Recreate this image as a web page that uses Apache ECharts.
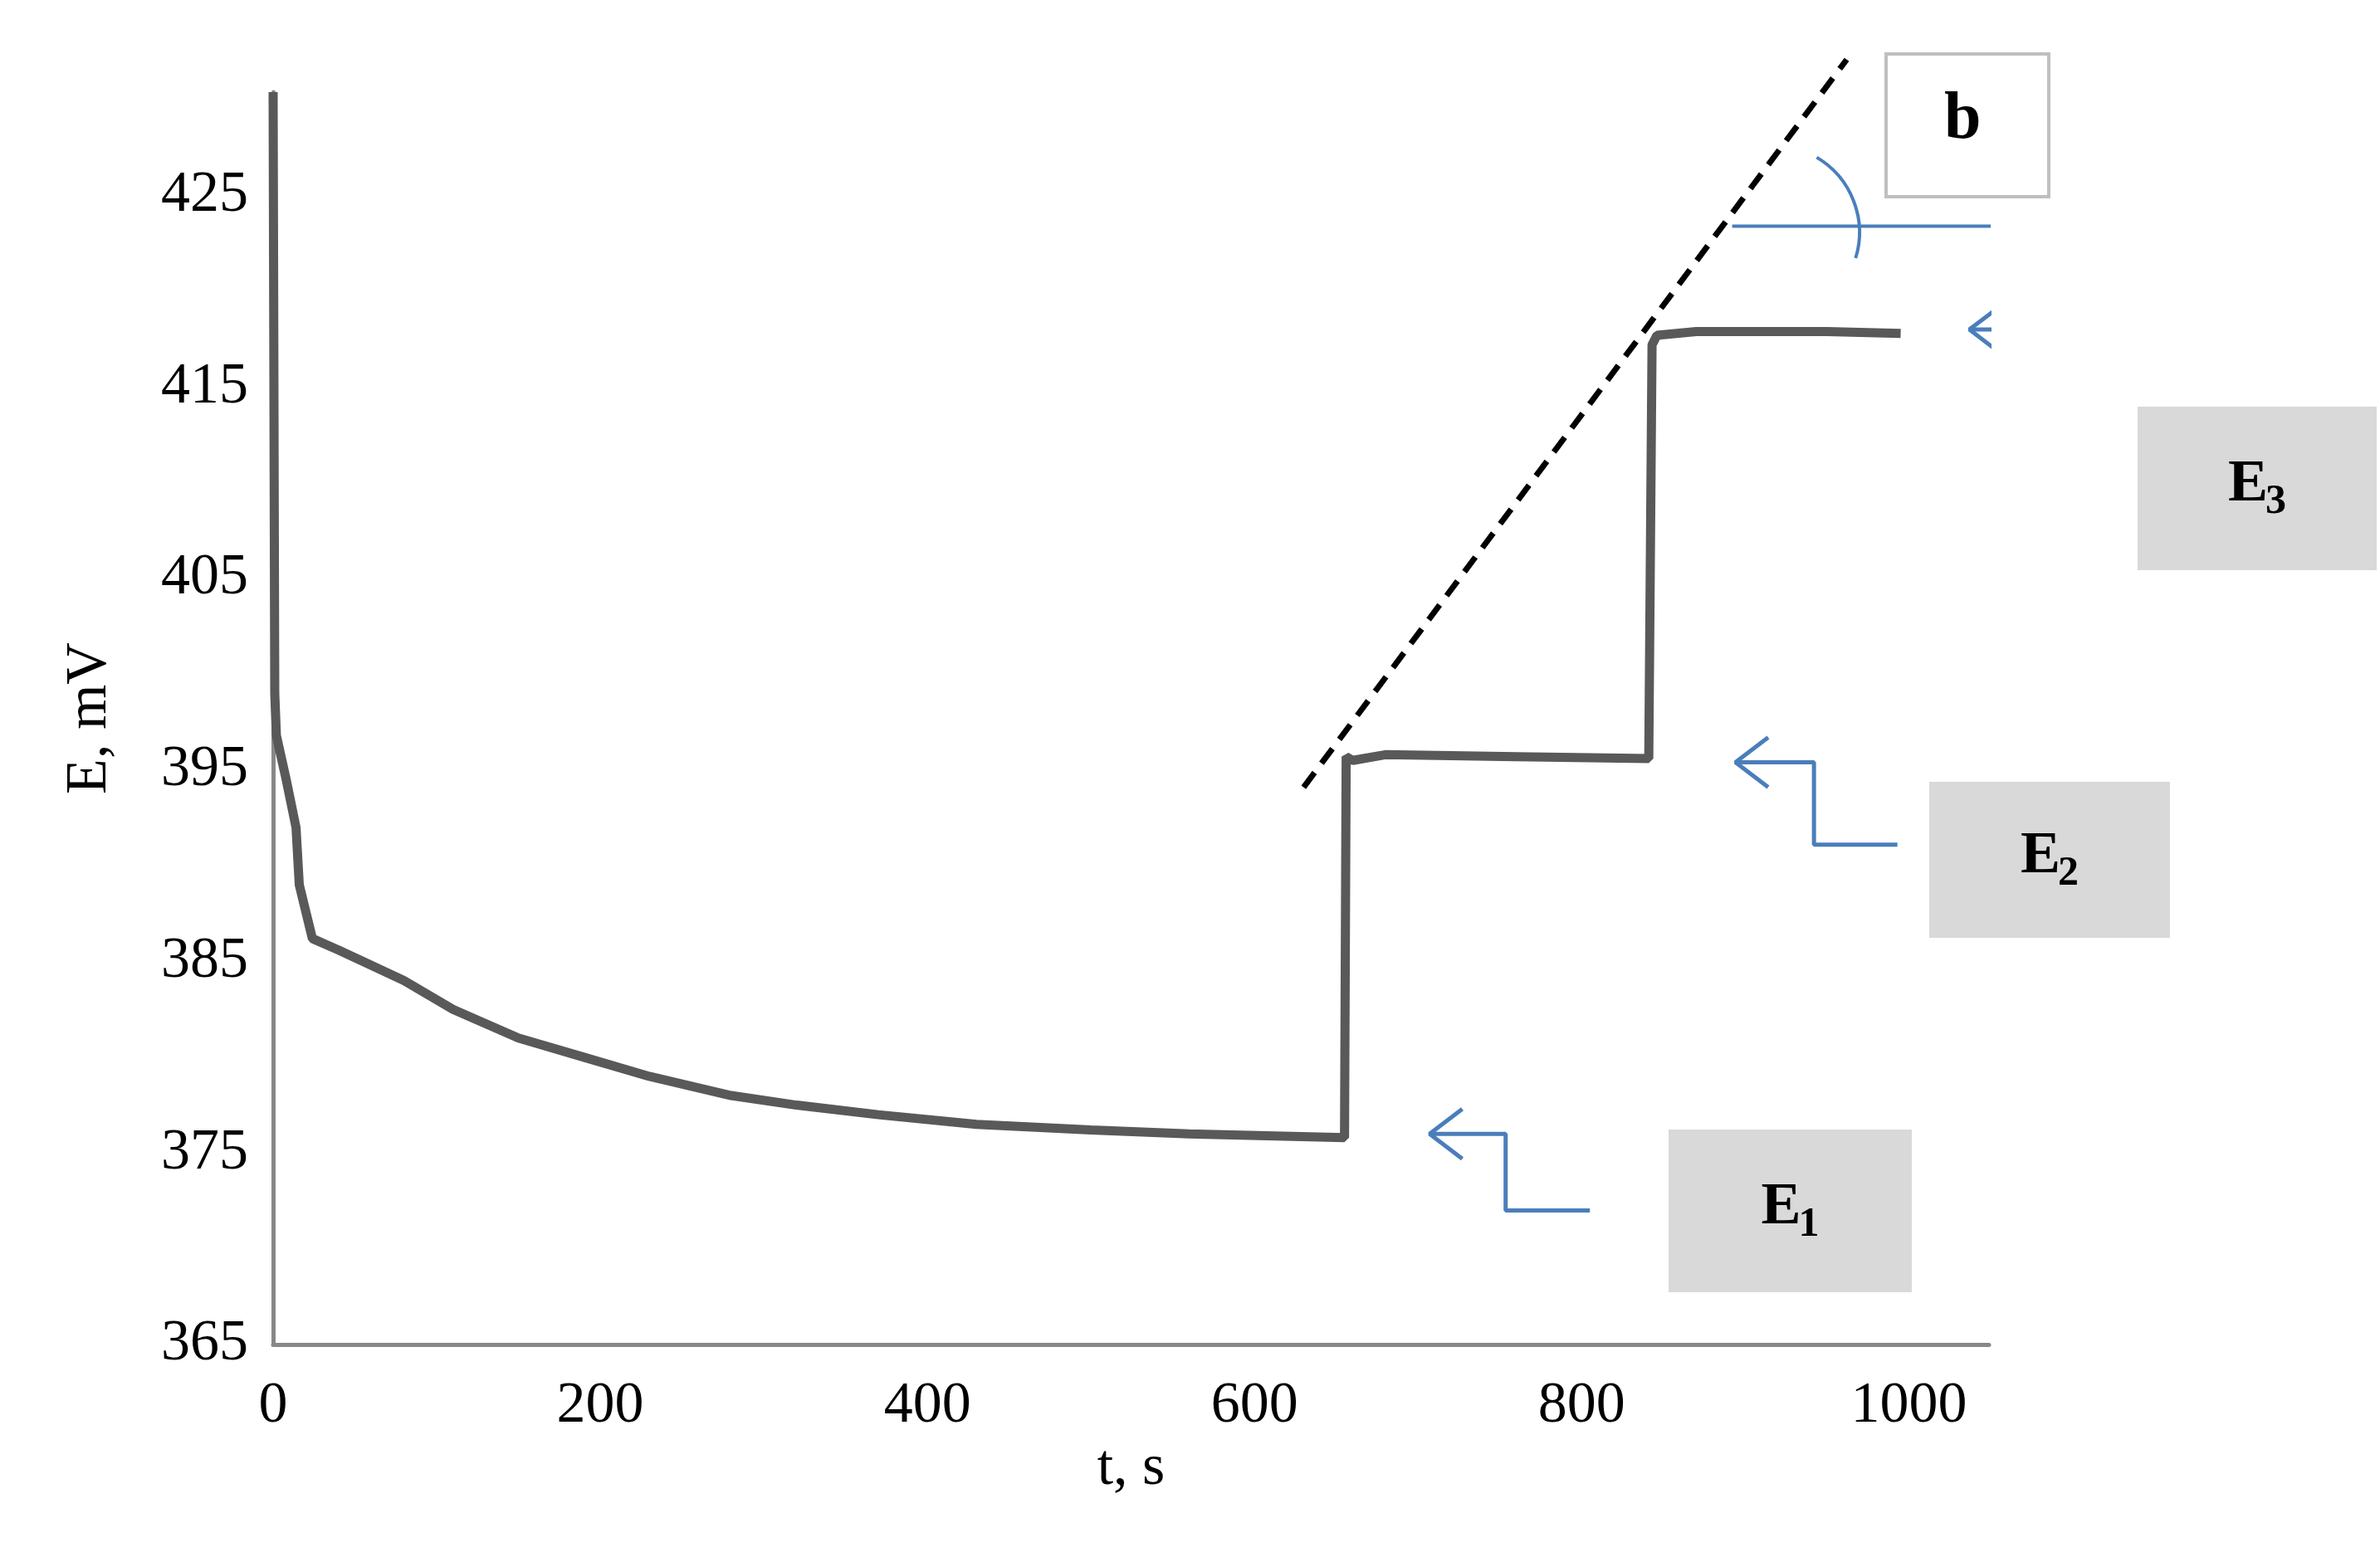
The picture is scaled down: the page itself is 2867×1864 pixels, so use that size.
<!DOCTYPE html>
<html><head><meta charset="utf-8">
<script src="https://cdn.jsdelivr.net/npm/echarts@6/dist/echarts.min.js"></script>
<style>html,body{margin:0;background:#fff}#c{width:2867px;height:1864px}</style>
</head><body><div id="c"></div>
<script>
// measured potential curve
let tVals = [0, 1, 2, 8, 14, 16, 24, 40, 55, 80, 110, 150, 190, 230, 280, 320, 370, 430, 500, 560, 655, 656, 660, 680, 760, 841, 843, 846, 870, 950, 995];
let eVals = [430.4, 399, 396.8, 394.5, 392, 389, 386.2, 385.6, 385, 384, 382.5, 381, 380, 379, 378, 377.5, 377, 376.5, 376.2, 376, 375.8, 395.7, 395.5, 395.8, 395.7, 395.6, 417.2, 417.7, 417.9, 417.9, 417.8];
let tangent = [[630, 394.1], [962, 432.1]];
let baseLine = [[892, 423.4], [1115, 423.4]];
let arrows = [
  {head: [1037, 418], corner: [1084, 413.6], end: 1136},
  {head: [894, 395.4], corner: [942, 391.1], end: 993},
  {head: [707, 376], corner: [753.5, 372], end: 805}
];
let xTicks = [0, 200, 400, 600, 800, 1000];
let yTicks = [365, 375, 385, 395, 405, 415, 425];

let chart = echarts.init(document.getElementById('c'));
let font = 'Liberation Serif';
let blue = '#4a7ebb';
let series = [{
  type: 'line', data: tVals.map((t, i) => [t, eVals[i]]), symbol: 'none',
  lineStyle: {color: '#595959', width: 11}, z: 3
}, {
  type: 'line', data: tangent, symbol: 'none', clip: false,
  lineStyle: {color: '#000', width: 7, type: [22, 14]}
}, {
  type: 'line', data: baseLine, symbol: 'none', clip: false,
  lineStyle: {color: blue, width: 4}
}];
arrows.forEach(a => {
  series.push({type: 'line', symbol: 'none', clip: false, lineStyle: {color: blue, width: 5},
    data: [a.head, [a.corner[0], a.head[1]], a.corner, [a.end, a.corner[1]]]});
  series.push({type: 'line', symbol: 'none', clip: false, lineStyle: {color: blue, width: 5},
    data: [[a.head[0] + 20, a.head[1] + 1.3], a.head, [a.head[0] + 20, a.head[1] - 1.3]]});
});

function box(x, y, w, h, sub) {
  return {type: 'group', children: [
    {type: 'rect', shape: {x: x, y: y, width: w, height: h}, style: {fill: '#d9d9d9'}},
    {type: 'text', x: x + w / 2 - 35, y: y + h / 2 - 40,
      style: {text: 'E', font: 'bold 72px ' + font, fill: '#000'}},
    {type: 'text', x: x + w / 2 + 10, y: y + h / 2 - 8,
      style: {text: sub, font: 'bold 50px ' + font, fill: '#000'}}
  ]};
}

chart.setOption({
  backgroundColor: '#fff',
  animation: false,
  grid: {left: 329, right: 471, top: 111, bottom: 244},
  xAxis: {
    type: 'value', min: 0, max: 1049, interval: 200, name: 't, s', nameLocation: 'middle', nameGap: 95,
    nameTextStyle: {fontFamily: font, fontSize: 70, color: '#000'},
    axisLine: {lineStyle: {color: '#888', width: 5}}, axisTick: {show: false}, splitLine: {show: false},
    axisLabel: {fontFamily: font, fontSize: 70, color: '#000', margin: 40, showMaxLabel: false,
      formatter: v => xTicks.includes(v) ? String(v) : ''}
  },
  yAxis: {
    type: 'value', min: 365, max: 430.4, interval: 10, name: 'E, mV', nameLocation: 'middle', nameGap: 185,
    nameTextStyle: {fontFamily: font, fontSize: 70, color: '#000'},
    axisLine: {show: true, lineStyle: {color: '#888', width: 5}}, axisTick: {show: false}, splitLine: {show: false},
    axisLabel: {fontFamily: font, fontSize: 70, color: '#000', margin: 30, showMaxLabel: false,
      formatter: v => yTicks.includes(v) ? String(v) : ''}
  },
  series: series,
  graphic: [
    box(2575, 490, 288, 197, '3'),
    box(2324, 942, 290, 188, '2'),
    box(2010, 1361, 293, 196, '1'),
    {type: 'rect', shape: {x: 2272, y: 65, width: 196, height: 172}, style: {fill: '#fff', stroke: '#bfbfbf', lineWidth: 4}},
    {type: 'text', x: 2342, y: 105, style: {text: 'b', font: 'bold 80px ' + font, fill: '#000'}},
    {type: 'arc', shape: {cx: 2135, cy: 280, r: 105, startAngle: -Math.PI * 0.33, endAngle: 0.3},
      style: {stroke: blue, lineWidth: 4, fill: null}}
  ]
});
</script></body></html>
